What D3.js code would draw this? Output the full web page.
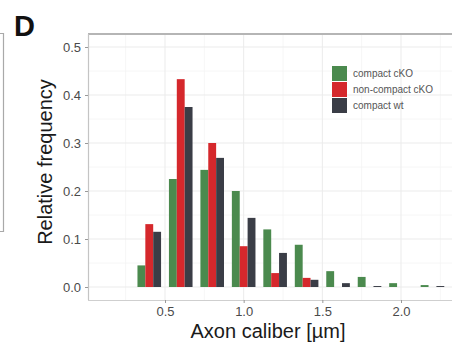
<!DOCTYPE html>
<html>
<head>
<meta charset="utf-8">
<script src="https://cdn.jsdelivr.net/npm/d3@7"></script>
<style>
  html, body { margin: 0; padding: 0; background: #fff; }
  svg { display: block; }
  text { font-family: "Liberation Sans", Arial, sans-serif; }
</style>
</head>
<body>
<svg id="chart" width="452" height="347"></svg>
<script>
// Histogram bins (bin centres, µm)
const bins = [0.4, 0.6, 0.8, 1.0, 1.2, 1.4, 1.6, 1.8, 2.0, 2.2];
// Relative frequency per group
const compactCKO    = [0.045, 0.225, 0.244, 0.200, 0.120, 0.088, 0.033, 0.021, 0.008, 0.004];
const nonCompactCKO = [0.131, 0.433, 0.300, 0.085, 0.029, 0.019, 0.000, 0.000, 0.000, 0.000];
const compactWT     = [0.115, 0.375, 0.269, 0.144, 0.071, 0.015, 0.008, 0.002, 0.000, 0.002];
const seriesNames   = ["compact cKO", "non-compact cKO", "compact wt"];
const seriesColors  = ["#4b8a4e", "#d5282c", "#3a3d46"];
const xTicks = [0.5, 1.0, 1.5, 2.0];
const yTicks = [0.0, 0.1, 0.2, 0.3, 0.4, 0.5];

const series = [compactCKO, nonCompactCKO, compactWT];

const svg = d3.select("#chart");

// panel box
const panel = { left: 88, top: 34, right: 470, bottom: 300 };

const x = d3.scaleLinear().domain([0.5, 2.0]).range([165, 401]);
const y = d3.scaleLinear().domain([0, 0.5]).range([287, 47]);

// neighbouring panel edge on the far left
svg.append("path")
  .attr("d", "M0,33.5H3.5V231.5H0")
  .attr("fill", "none").attr("stroke", "#a9a9a9").attr("stroke-width", 1.2);

// panel label
svg.append("text")
  .attr("x", 14).attr("y", 36)
  .attr("font-size", 29).attr("font-weight", "bold").attr("fill", "#111")
  .text("D");

// panel background
svg.append("rect")
  .attr("x", panel.left).attr("y", panel.top)
  .attr("width", panel.right - panel.left).attr("height", panel.bottom - panel.top)
  .attr("fill", "#fff");

// grid lines
const g = svg.append("g");
const xMinor = d3.range(0.25, 2.4, 0.5);
const yMinor = d3.range(0.05, 0.55, 0.1);
g.selectAll(".xminor").data(xMinor).join("line")
  .attr("x1", d => x(d)).attr("x2", d => x(d))
  .attr("y1", panel.top).attr("y2", panel.bottom)
  .attr("stroke", "#f4f4f4").attr("stroke-width", 0.8);
g.selectAll(".yminor").data(yMinor).join("line")
  .attr("x1", panel.left).attr("x2", panel.right)
  .attr("y1", d => y(d)).attr("y2", d => y(d))
  .attr("stroke", "#f4f4f4").attr("stroke-width", 0.8);
g.selectAll(".xmajor").data(xTicks).join("line")
  .attr("x1", d => x(d)).attr("x2", d => x(d))
  .attr("y1", panel.top).attr("y2", panel.bottom)
  .attr("stroke", "#ebebeb").attr("stroke-width", 1);
g.selectAll(".ymajor").data(yTicks).join("line")
  .attr("x1", panel.left).attr("x2", panel.right)
  .attr("y1", d => y(d)).attr("y2", d => y(d))
  .attr("stroke", "#ebebeb").attr("stroke-width", 1);

// dodged bars
const groupWidth = 0.15;
const barW = groupWidth / series.length;
series.forEach((vals, si) => {
  svg.append("g").selectAll("rect")
    .data(bins.map((b, i) => ({ b, v: vals[i] })))
    .join("rect")
    .attr("x", d => x(d.b - groupWidth / 2 + si * barW))
    .attr("width", x(barW) - x(0))
    .attr("y", d => y(d.v))
    .attr("height", d => y(0) - y(d.v))
    .attr("fill", seriesColors[si]);
});

// panel border
svg.append("line")
  .attr("x1", panel.left).attr("x2", 452)
  .attr("y1", panel.top).attr("y2", panel.top)
  .attr("stroke", "#b5b5b5").attr("stroke-width", 2);
svg.append("line")
  .attr("x1", panel.left + 0.5).attr("x2", panel.left + 0.5)
  .attr("y1", panel.top).attr("y2", panel.bottom)
  .attr("stroke", "#c4c4c4").attr("stroke-width", 1.2);
svg.append("line")
  .attr("x1", panel.left).attr("x2", 452)
  .attr("y1", panel.bottom + 0.5).attr("y2", panel.bottom + 0.5)
  .attr("stroke", "#cfcfcf").attr("stroke-width", 1.2);

// axes
const yAxis = d3.axisLeft(y).tickValues(yTicks).tickFormat(d3.format(".1f")).tickSize(3).tickPadding(4);
const yg = svg.append("g").attr("transform", `translate(${panel.left},0)`).call(yAxis);
const xAxis = d3.axisBottom(x).tickValues(xTicks).tickFormat(d3.format(".1f")).tickSize(3).tickPadding(4);
const xg = svg.append("g").attr("transform", `translate(0,${panel.bottom})`).call(xAxis);
[yg, xg].forEach(a => {
  a.select(".domain").remove();
  a.selectAll(".tick line").attr("stroke", "#999");
  a.selectAll(".tick text")
    .attr("font-family", "'Liberation Sans', Arial, sans-serif")
    .attr("font-size", 13).attr("fill", "#4a4a4a");
});

// axis titles
svg.append("text")
  .attr("x", 268).attr("y", 338)
  .attr("text-anchor", "middle").attr("font-size", 20).attr("fill", "#1a1a1a")
  .text("Axon caliber [µm]");
svg.append("text")
  .attr("transform", "translate(52,162) rotate(-90)")
  .attr("text-anchor", "middle").attr("font-size", 20).attr("fill", "#1a1a1a")
  .text("Relative frequency");

// legend
const legend = svg.append("g").attr("transform", "translate(332,66)");
seriesNames.forEach((name, i) => {
  const row = legend.append("g").attr("transform", `translate(0,${i * 16})`);
  row.append("rect").attr("width", 15).attr("height", 15).attr("fill", seriesColors[i]);
  row.append("text").attr("x", 21).attr("y", 11)
    .attr("font-size", 10).attr("fill", "#555").text(name);
});
</script>
</body>
</html>
